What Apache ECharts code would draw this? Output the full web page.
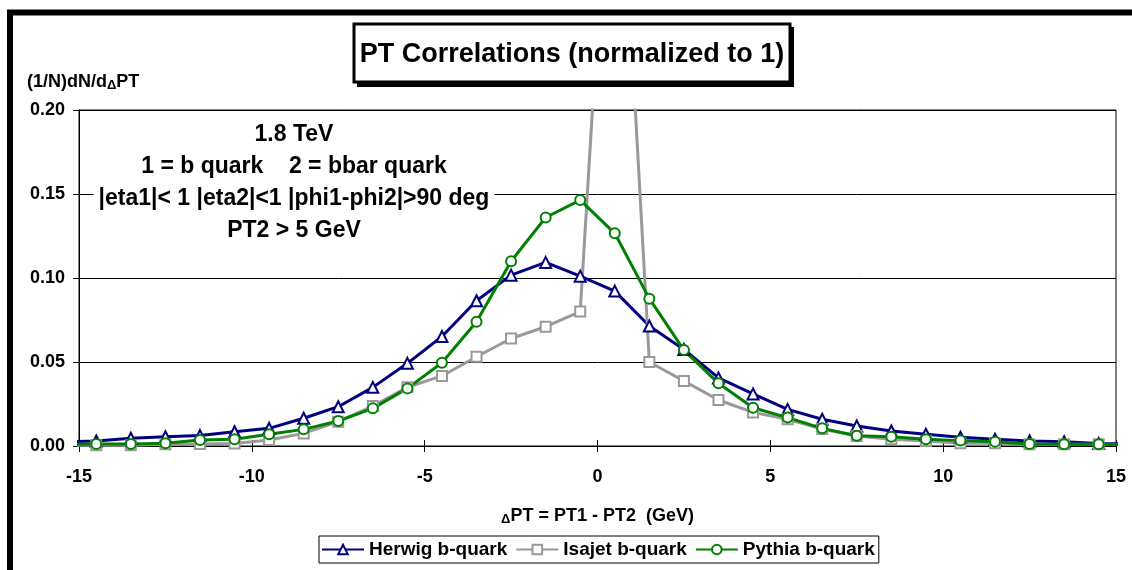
<!DOCTYPE html>
<html>
<head>
<meta charset="utf-8">
<title>PT Correlations</title>
<script src="https://cdn.jsdelivr.net/npm/echarts@6/dist/echarts.min.js"></script>
<style>
  html, body { margin: 0; padding: 0; background: #fff; }
  #main { width: 1132px; height: 570px; }
</style>
</head>
<body>
<div id="main"></div>
<script>
// bin centres of dPT = PT1 - PT2 (GeV), outer two bins lie just past the axis
const dPT = [-15.5, -14.5, -13.5, -12.5, -11.5, -10.5, -9.5, -8.5, -7.5, -6.5, -5.5, -4.5, -3.5, -2.5, -1.5, -0.5,
  0.5, 1.5, 2.5, 3.5, 4.5, 5.5, 6.5, 7.5, 8.5, 9.5, 10.5, 11.5, 12.5, 13.5, 14.5, 15.5]

const herwig = [0.0025, 0.0030, 0.0046, 0.0055, 0.0062, 0.0085, 0.0105, 0.0165, 0.0234, 0.0349, 0.0492, 0.0652, 0.0865, 0.1017, 0.1093, 0.1011,
  0.0922, 0.0714, 0.0575, 0.0405, 0.0310, 0.0218, 0.0159, 0.0119, 0.0089, 0.0070, 0.0052, 0.0040, 0.0030, 0.0026, 0.0015, 0.0012]

const isajet = [0.0004, 0.0005, 0.0005, 0.0010, 0.0012, 0.0015, 0.0036, 0.0075, 0.0145, 0.0238, 0.0350, 0.0417, 0.0531, 0.0640, 0.0710, 0.0800,
  0.4200, 0.0500, 0.0387, 0.0274, 0.0200, 0.0159, 0.0101, 0.0060, 0.0040, 0.0030, 0.0016, 0.0016, 0.0010, 0.0010, 0.0010, 0.0008]

const pythia = [0.0010, 0.0012, 0.0012, 0.0016, 0.0036, 0.0040, 0.0070, 0.0099, 0.0149, 0.0224, 0.0343, 0.0496, 0.0740, 0.1100, 0.1360, 0.1464,
  0.1266, 0.0877, 0.0571, 0.0373, 0.0228, 0.0169, 0.0105, 0.0061, 0.0055, 0.0040, 0.0032, 0.0026, 0.0012, 0.0010, 0.0010, 0.0008]

// axis ticks
const xMin = -15, xMax = 15, xStep = 5
const yMin = 0, yMax = 0.2, yStep = 0.05

const seriesNames = ['Herwig b-quark', 'Isajet b-quark', 'Pythia b-quark']
const noteLines = ['1.8 TeV', '1 = b quark    2 = bbar quark', '|eta1|< 1 |eta2|<1 |phi1-phi2|>90 deg', 'PT2 > 5 GeV']

const font = 'Arial, "Liberation Sans", sans-serif'

function makeSeries (name, values, color, symbol, size) {
  return {
    name: name,
    type: 'line',
    data: dPT.map((x, i) => [x, values[i]]),
    symbol: symbol,
    symbolSize: size,
    showAllSymbol: true,
    clip: true,
    lineStyle: { color: color, width: 3 },
    itemStyle: { color: '#fff', borderColor: color, borderWidth: 2 },
    emphasis: { disabled: true },
    animation: false
  }
}

const chart = echarts.init(document.getElementById('main'))
chart.setOption({
  animation: false,
  grid: {
    left: 79, right: 16, top: 110, bottom: 124,
    show: true, borderColor: '#000', borderWidth: 1
  },
  legend: {
    data: seriesNames,
    left: 319, top: 536,
    itemWidth: 42, itemHeight: 12, itemGap: 8,
    padding: [4, 4, 4, 2],
    borderColor: '#000', borderWidth: 1,
    textStyle: { fontFamily: font, fontWeight: 'bold', fontSize: 19, color: '#000' }
  },
  xAxis: [
    {
      type: 'value', min: xMin, max: xMax, interval: xStep,
      name: '{d|Δ}PT = PT1 - PT2  (GeV)',
      nameLocation: 'middle', nameGap: 61,
      nameTextStyle: {
        fontFamily: font, fontWeight: 'bold', fontSize: 18, color: '#000',
        rich: { d: { fontFamily: font, fontWeight: 'bold', fontSize: 13, color: '#000', padding: [6, 0, 0, 0] } }
      },
      axisLine: { lineStyle: { color: '#000', width: 1 } },
      axisTick: { length: 6, lineStyle: { color: '#000' } },
      axisLabel: { margin: 22, fontFamily: font, fontWeight: 'bold', fontSize: 18, color: '#000' },
      splitLine: { show: false }
    },
    {
      // inner half of the cross ticks
      type: 'value', min: xMin, max: xMax, interval: xStep, position: 'bottom',
      axisLine: { show: false },
      axisTick: { inside: true, length: 6, lineStyle: { color: '#000' } },
      axisLabel: { show: false },
      splitLine: { show: false }
    }
  ],
  yAxis: {
    type: 'value', min: yMin, max: yMax, interval: yStep,
    axisLine: { show: true, onZero: false, lineStyle: { color: '#000', width: 1 } },
    axisTick: { show: true, length: 6, lineStyle: { color: '#000' } },
    axisLabel: {
      margin: 14, fontFamily: font, fontWeight: 'bold', fontSize: 18, color: '#000',
      formatter: v => v.toFixed(2)
    },
    splitLine: { lineStyle: { color: '#000', width: 1 } }
  },
  graphic: [
    {
      // outer chart frame
      type: 'rect', z: 200, silent: true,
      shape: { x: 10, y: 12.5, width: 1300, height: 800 },
      style: { fill: null, stroke: '#000', lineWidth: 6 }
    },
    {
      type: 'rect', z: 200, silent: true,
      shape: { x: 357, y: 27, width: 437, height: 60 },
      style: { fill: '#000' }
    },
    {
      type: 'rect', z: 201, silent: true,
      shape: { x: 354, y: 24, width: 436, height: 58 },
      style: { fill: '#fff', stroke: '#000', lineWidth: 3 }
    },
    {
      type: 'text', z: 202, silent: true,
      x: 572, y: 55,
      style: {
        text: 'PT Correlations (normalized to 1)',
        fontFamily: font, fontWeight: 'bold', fontSize: 27, fill: '#000',
        align: 'center', verticalAlign: 'middle'
      }
    },
    {
      type: 'text', z: 202, silent: true,
      x: 27, y: 82,
      style: {
        text: '(1/N)dN/d{d|Δ}PT',
        fontFamily: font, fontWeight: 'bold', fontSize: 18, fill: '#000',
        verticalAlign: 'middle',
        rich: { d: { fontFamily: font, fontWeight: 'bold', fontSize: 13, fill: '#000', padding: [6, 0, 0, 0] } }
      }
    },
    {
      type: 'text', z: 150, silent: true,
      x: 294, y: 119,
      style: {
        text: noteLines.join('\n'),
        fontFamily: font, fontWeight: 'bold', fontSize: 23, fill: '#000',
        lineHeight: 32, align: 'center', verticalAlign: 'top',
        backgroundColor: '#fff', padding: [0, 5, 0, 5]
      }
    }
  ],
  series: [
    makeSeries(seriesNames[0], herwig, '#000080', 'triangle', 11),
    makeSeries(seriesNames[1], isajet, '#999999', 'rect', 10),
    makeSeries(seriesNames[2], pythia, '#008000', 'circle', 10)
  ]
})
</script>
</body>
</html>
